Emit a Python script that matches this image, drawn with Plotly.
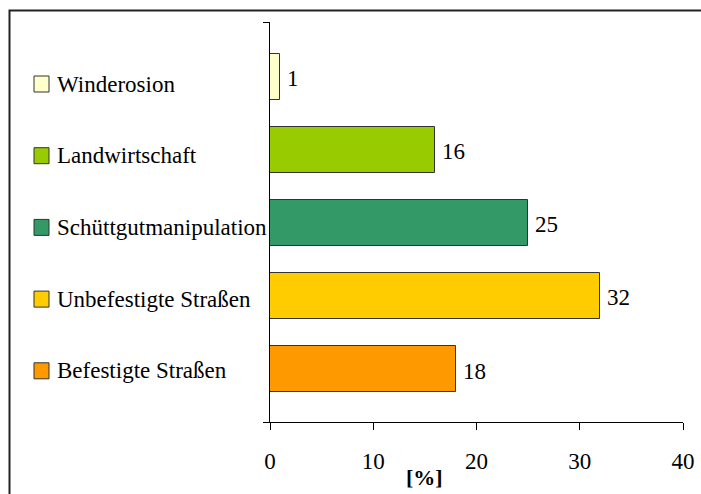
import plotly.graph_objects as go

# Source categories, listed top to bottom
categories = ["Winderosion", "Landwirtschaft", "Schüttgutmanipulation",
              "Unbefestigte Straßen", "Befestigte Straßen"]
shares = [1, 16, 25, 32, 18]  # [%]
colors = ["#FFFFCC", "#99CC00", "#339966", "#FFCC00", "#FF9900"]
x_ticks = [0, 10, 20, 30, 40]

FONT = "Liberation Serif"
W, H = 701, 494
M_L, M_R, M_T, M_B = 270, 18, 22, 72
PW, PH = W - M_L - M_R, H - M_T - M_B

# category slots: top entry gets the highest position
n = len(categories)
slots = [n - 1 - i for i in range(n)]
y_lo, y_hi = -0.726, 4.753


def px_x(px):
    return (px - M_L) / PW


def px_y(py):
    return (M_T + PH - py) / PH


fig = go.Figure(go.Bar(
    x=shares, y=slots, orientation="h", width=0.63,
    marker=dict(color=colors, line=dict(color="#333333", width=1)),
    showlegend=False, hoverinfo="x",
))

annotations = []
# value labels at the bar ends
for v, s in zip(shares, slots):
    annotations.append(dict(
        x=v, y=s, xref="x", yref="y", text=str(v), showarrow=False,
        xanchor="left", yanchor="middle", xshift=5, yshift=-2,
        font=dict(family=FONT, size=23, color="#000"),
    ))

# axis caption
annotations.append(dict(
    x=px_x(424), y=px_y(477), xref="paper", yref="paper", text="<b>[%]</b>",
    showarrow=False, xanchor="center", yanchor="middle",
    font=dict(family=FONT, size=22, color="#000"),
))

# key on the left: coloured squares with names
shapes = []
key_top, key_step = 84, 71.7
for i, (name, col) in enumerate(zip(categories, colors)):
    cy = key_top + i * key_step
    shapes.append(dict(
        type="rect", xref="paper", yref="paper",
        x0=px_x(34), x1=px_x(49), y0=px_y(cy + 8), y1=px_y(cy - 8),
        fillcolor=col, line=dict(color="#333333", width=1),
    ))
    annotations.append(dict(
        x=px_x(55), y=px_y(cy), xref="paper", yref="paper", text=name,
        showarrow=False, xanchor="left", yanchor="middle",
        font=dict(family=FONT, size=23, color="#000"),
    ))

# outer frame of the chart area
shapes.append(dict(
    type="rect", xref="paper", yref="paper",
    x0=px_x(9.5), x1=px_x(760), y0=px_y(560), y1=px_y(10.5),
    line=dict(color="#222222", width=2), fillcolor="rgba(0,0,0,0)",
))

fig.update_layout(
    width=W, height=H,
    margin=dict(l=M_L, r=M_R, t=M_T, b=M_B, autoexpand=False),
    paper_bgcolor="white", plot_bgcolor="white",
    font=dict(family=FONT, size=23, color="#000"),
    xaxis=dict(
        range=[0, 40], tickmode="array", tickvals=x_ticks,
        ticks="outside", ticklen=7, tickcolor="#000", tickwidth=1,
        showline=True, linecolor="#000", linewidth=1, automargin=False,
        showgrid=False, zeroline=False, ticklabelstandoff=11,
        tickfont=dict(family=FONT, size=23, color="#000"),
    ),
    yaxis=dict(
        range=[y_lo, y_hi], tickmode="array", tickvals=[y_lo, y_hi],
        ticktext=["", ""], ticks="outside", ticklen=6, tickcolor="#000",
        showline=True, linecolor="#000", linewidth=1, automargin=False,
        showgrid=False, zeroline=False,
    ),
    annotations=annotations, shapes=shapes,
    bargap=0,
)

fig.write_html("out.html")
